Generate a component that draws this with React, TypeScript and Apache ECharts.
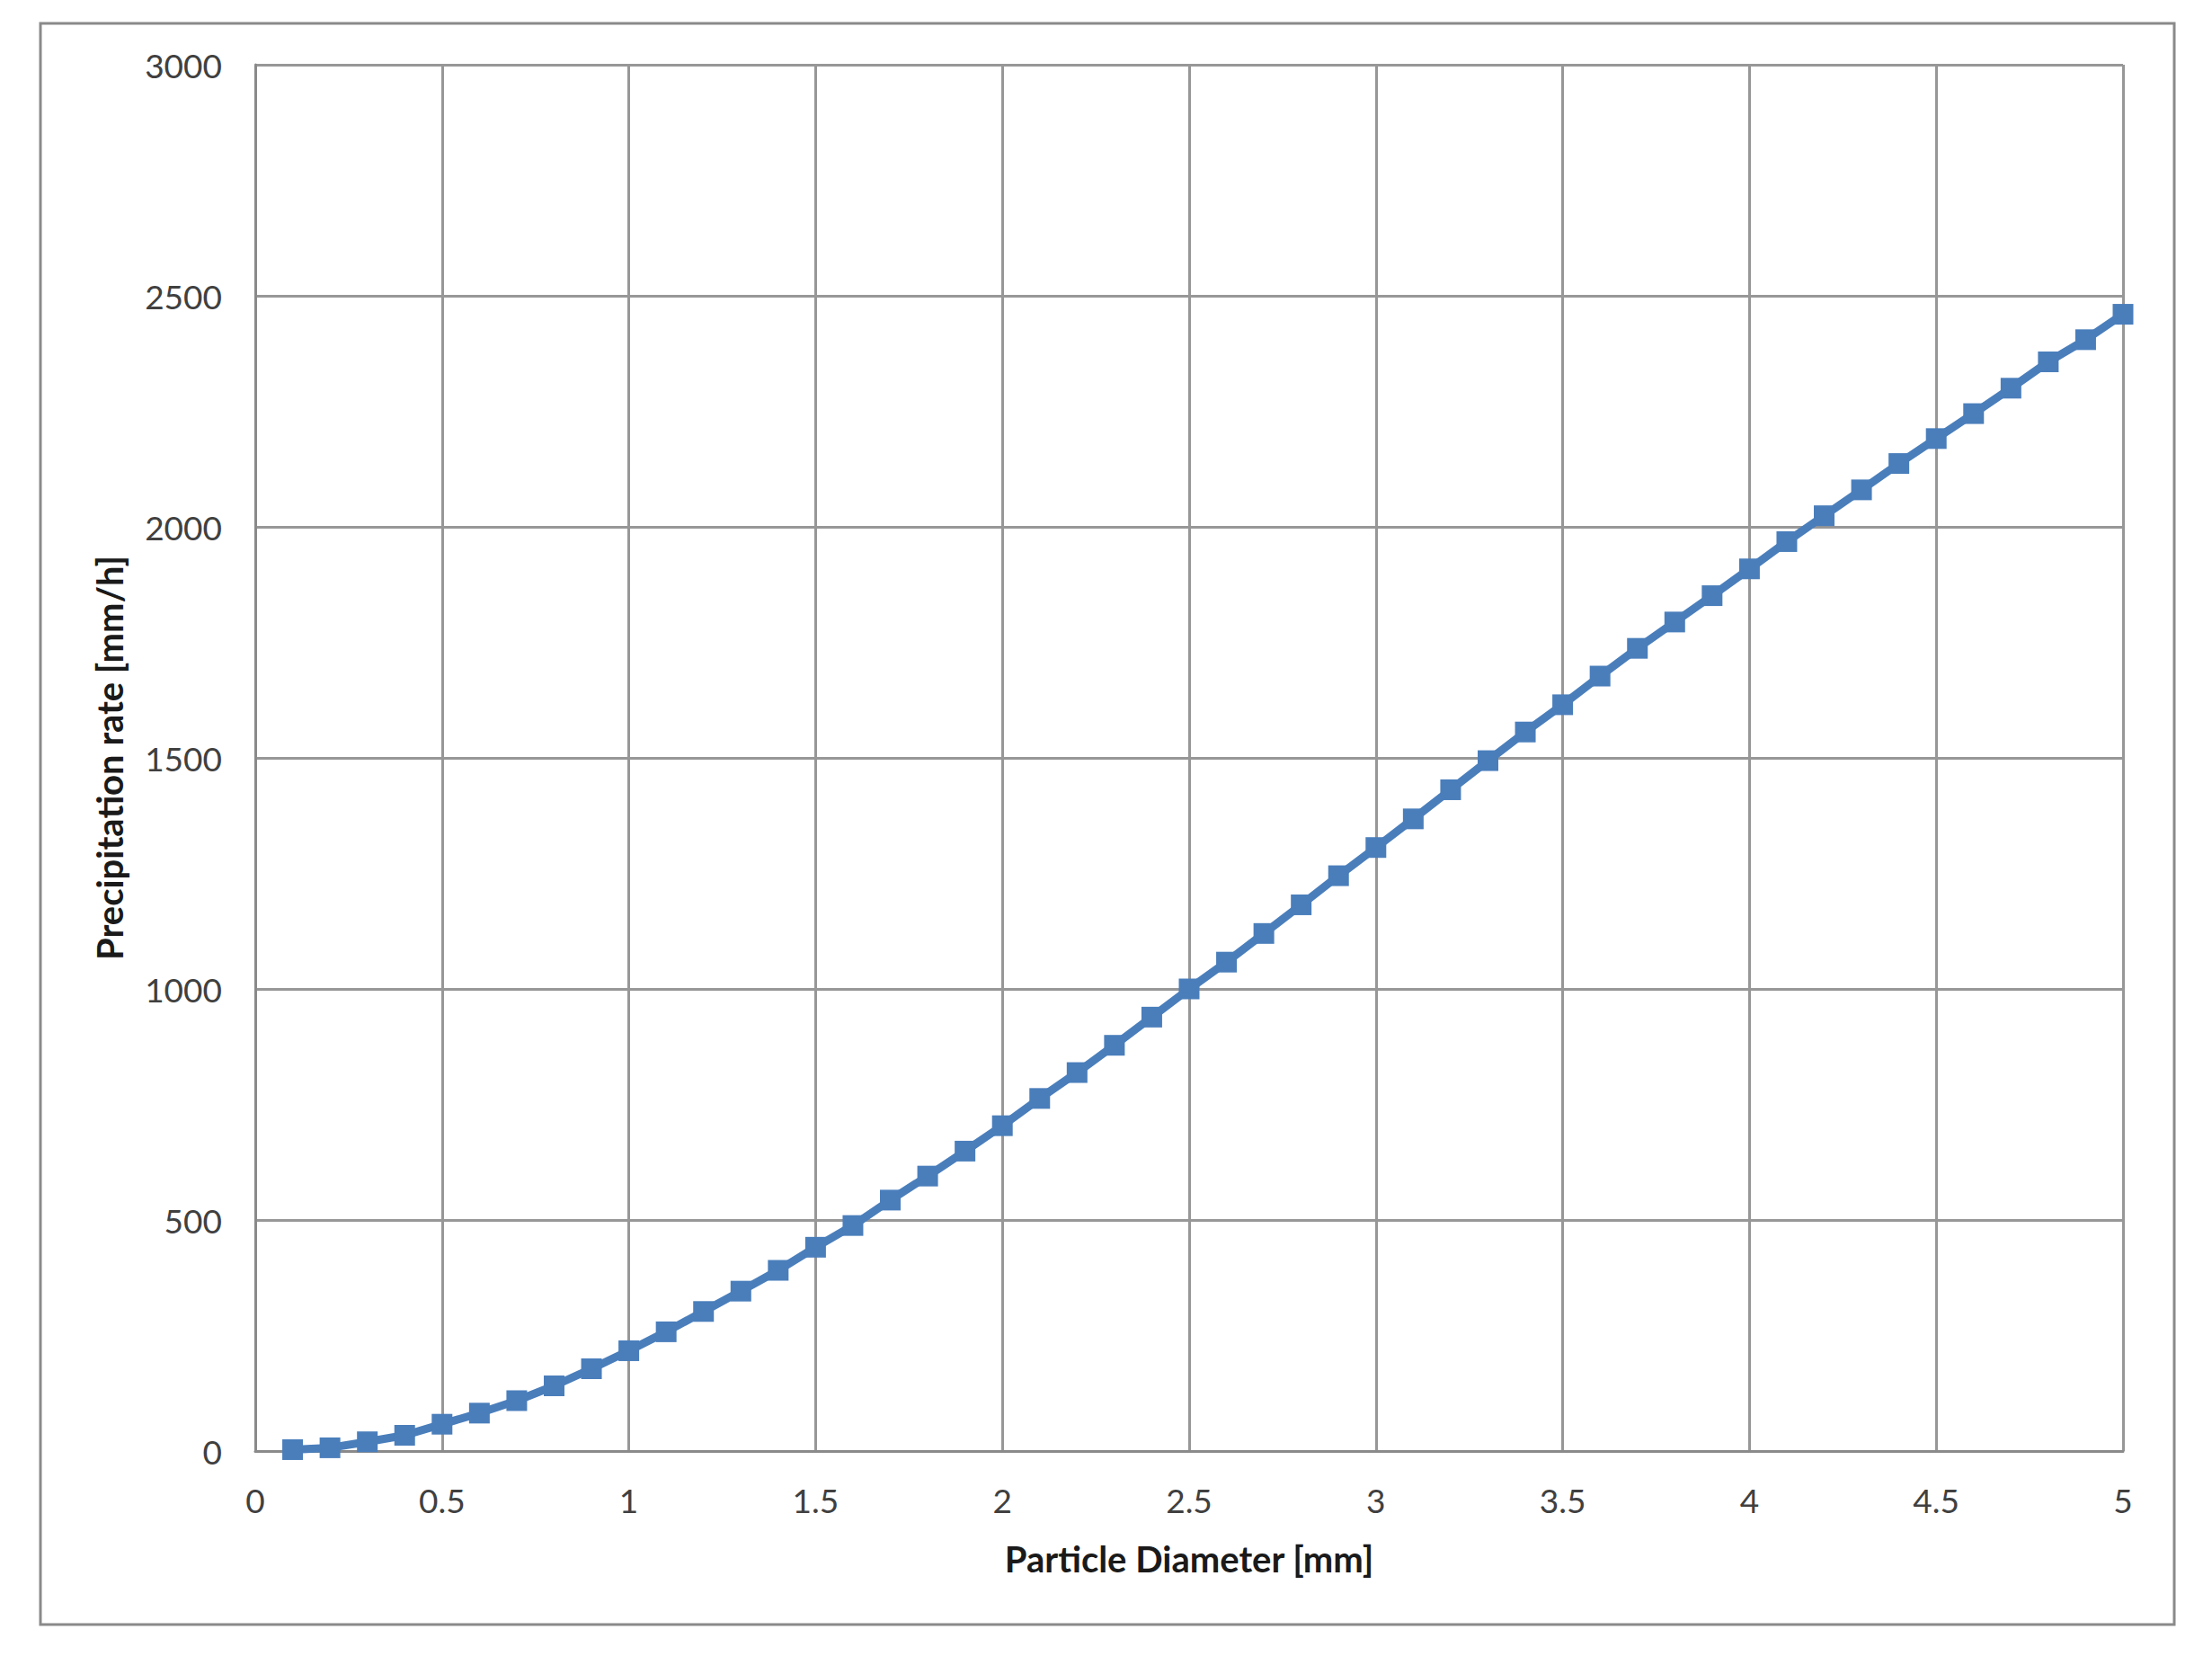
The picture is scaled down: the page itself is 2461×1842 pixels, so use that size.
import React, { useEffect, useRef } from "react";
import * as echarts from "echarts";

const diameters = [
  0.1, 0.2, 0.3, 0.4, 0.5, 0.6, 0.7, 0.8, 0.9, 1.0,
  1.1, 1.2, 1.3, 1.4, 1.5, 1.6, 1.7, 1.8, 1.9, 2.0,
  2.1, 2.2, 2.3, 2.4, 2.5, 2.6, 2.7, 2.8, 2.9, 3.0,
  3.1, 3.2, 3.3, 3.4, 3.5, 3.6, 3.7, 3.8, 3.9, 4.0,
  4.1, 4.2, 4.3, 4.4, 4.5, 4.6, 4.7, 4.8, 4.9, 5.0,
];

const rates = [
  3, 7, 20, 34, 58, 82, 109, 141, 178, 217,
  258, 302, 346, 391, 441, 488, 543, 595, 649, 704,
  763, 819, 878, 939, 1000, 1058, 1120, 1182, 1245, 1306,
  1368, 1431, 1494, 1556, 1615, 1677, 1737, 1794, 1851, 1909,
  1968, 2024, 2080, 2137, 2191, 2245, 2300, 2357, 2405, 2460,
];

const xAxisTitle = "Particle Diameter [mm]";
const yAxisTitle = "Precipitation rate [mm/h]";

const FONT = "Lato, 'Open Sans', 'Liberation Sans', sans-serif";
const GRID_COLOR = "#979797";
const LINE_COLOR = "#4a7ebb";

export default function App() {
  const ref = useRef<HTMLDivElement>(null);

  useEffect(() => {
    if (!ref.current) return;
    const chart = echarts.init(ref.current, undefined, { renderer: "svg" });
    const points = diameters.map((d, i) => [d, rates[i]]);
    chart.setOption({
      animation: false,
      backgroundColor: "#ffffff",
      graphic: [
        {
          type: "rect",
          shape: { x: 45, y: 26, width: 2374, height: 1781 },
          style: { fill: "none", stroke: "#8a8a8a", lineWidth: 3 },
          silent: true,
        },
      ],
      grid: { left: 284, top: 72, right: 99, bottom: 228, show: false },
      xAxis: {
        type: "value",
        min: 0,
        max: 5,
        interval: 0.5,
        name: xAxisTitle,
        nameLocation: "middle",
        nameGap: 100,
        nameTextStyle: { fontFamily: FONT, fontSize: 40, fontWeight: "bold", color: "#1a1a1a" },
        axisLine: { show: true, lineStyle: { color: "#8a8a8a", width: 3 } },
        axisTick: { show: false },
        axisLabel: { fontFamily: FONT, fontSize: 37, color: "#404040", margin: 36, formatter: (v: number) => String(v) },
        splitLine: { show: true, lineStyle: { color: GRID_COLOR, width: 3 } },
      },
      yAxis: {
        type: "value",
        min: 0,
        max: 3000,
        interval: 500,
        name: yAxisTitle,
        nameLocation: "middle",
        nameGap: 142,
        nameRotate: 90,
        nameTextStyle: { fontFamily: FONT, fontSize: 40, fontWeight: "bold", color: "#1a1a1a" },
        axisLine: { show: true, lineStyle: { color: "#8a8a8a", width: 3 } },
        axisTick: { show: false },
        axisLabel: { fontFamily: FONT, fontSize: 37, color: "#404040", margin: 37, formatter: (v: number) => String(v) },
        splitLine: { show: true, lineStyle: { color: GRID_COLOR, width: 3 } },
      },
      series: [
        {
          type: "line",
          data: points,
          symbol: "rect",
          symbolSize: 23,
          showSymbol: true,
          lineStyle: { color: LINE_COLOR, width: 9 },
          itemStyle: { color: LINE_COLOR },
          z: 5,
        },
      ],
    });
    return () => chart.dispose();
  }, []);

  return (
    <div
      ref={ref}
      style={{ position: "absolute", left: 0, top: 0, width: 2461, height: 1842 }}
    />
  );
}
